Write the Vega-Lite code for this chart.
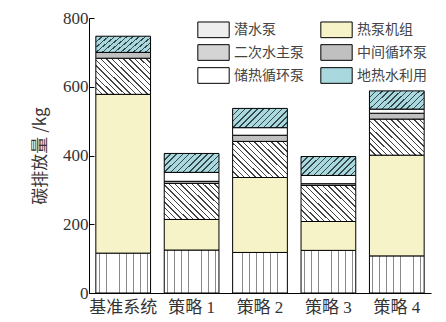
{
  "$schema": "https://vega.github.io/schema/vega-lite/v6.json",
  "width": 342,
  "height": 275,
  "autosize": {"type": "none"},
  "padding": {"left": 89, "top": 18, "right": 15, "bottom": 29},
  "background": "white",
  "config": {"view": {"stroke": null}},
  "data": {"values": [
    {"方案": "基准系统", "部件": "潜水泵", "idx": 1, "排放": 116},
    {"方案": "基准系统", "部件": "热泵机组", "idx": 2, "排放": 462},
    {"方案": "基准系统", "部件": "二次水主泵", "idx": 3, "排放": 105},
    {"方案": "基准系统", "部件": "中间循环泵", "idx": 4, "排放": 17},
    {"方案": "基准系统", "部件": "地热水利用", "idx": 6, "排放": 47},
    {"方案": "策略 1", "部件": "潜水泵", "idx": 1, "排放": 125},
    {"方案": "策略 1", "部件": "热泵机组", "idx": 2, "排放": 89},
    {"方案": "策略 1", "部件": "二次水主泵", "idx": 3, "排放": 105},
    {"方案": "策略 1", "部件": "中间循环泵", "idx": 4, "排放": 6},
    {"方案": "策略 1", "部件": "储热循环泵", "idx": 5, "排放": 26},
    {"方案": "策略 1", "部件": "地热水利用", "idx": 6, "排放": 55},
    {"方案": "策略 2", "部件": "潜水泵", "idx": 1, "排放": 118},
    {"方案": "策略 2", "部件": "热泵机组", "idx": 2, "排放": 218},
    {"方案": "策略 2", "部件": "二次水主泵", "idx": 3, "排放": 105},
    {"方案": "策略 2", "部件": "中间循环泵", "idx": 4, "排放": 18},
    {"方案": "策略 2", "部件": "储热循环泵", "idx": 5, "排放": 22},
    {"方案": "策略 2", "部件": "地热水利用", "idx": 6, "排放": 56},
    {"方案": "策略 3", "部件": "潜水泵", "idx": 1, "排放": 124},
    {"方案": "策略 3", "部件": "热泵机组", "idx": 2, "排放": 84},
    {"方案": "策略 3", "部件": "二次水主泵", "idx": 3, "排放": 105},
    {"方案": "策略 3", "部件": "中间循环泵", "idx": 4, "排放": 5},
    {"方案": "策略 3", "部件": "储热循环泵", "idx": 5, "排放": 24},
    {"方案": "策略 3", "部件": "地热水利用", "idx": 6, "排放": 55},
    {"方案": "策略 4", "部件": "潜水泵", "idx": 1, "排放": 108},
    {"方案": "策略 4", "部件": "热泵机组", "idx": 2, "排放": 293},
    {"方案": "策略 4", "部件": "二次水主泵", "idx": 3, "排放": 105},
    {"方案": "策略 4", "部件": "中间循环泵", "idx": 4, "排放": 17},
    {"方案": "策略 4", "部件": "储热循环泵", "idx": 5, "排放": 12},
    {"方案": "策略 4", "部件": "地热水利用", "idx": 6, "排放": 53}
  ]},
  "mark": {"type": "bar", "stroke": "black", "strokeWidth": 1},
  "encoding": {
    "x": {
      "field": "方案", "type": "nominal",
      "sort": ["基准系统", "策略 1", "策略 2", "策略 3", "策略 4"],
      "scale": {"paddingInner": 0.2, "paddingOuter": 0.1},
      "axis": {
        "title": null, "labelAngle": 0, "ticks": false, "labelPadding": 6,
        "domainColor": "black", "domainWidth": 1,
        "labelFont": "Liberation Serif, Noto Sans CJK SC", "labelFontSize": 17, "labelColor": "#333"
      }
    },
    "y": {
      "field": "排放", "type": "quantitative", "stack": "zero",
      "scale": {"domain": [0, 800], "nice": false},
      "axis": {
        "title": "碳排放量 /kg", "values": [0, 200, 400, 600, 800], "grid": false,
        "tickSize": -5, "tickColor": "black", "labelPadding": 6,
        "domainColor": "black", "domainWidth": 1,
        "labelFont": "Liberation Serif", "labelFontSize": 17, "labelColor": "#333",
        "titleFont": "Noto Sans CJK SC", "titleFontSize": 17, "titleFontWeight": "normal",
        "titleColor": "#3a3333", "titlePadding": 13
      }
    },
    "order": {"field": "idx", "type": "quantitative"},
    "fill": {
      "condition": [
        {"test": "datum['部件'] == '潜水泵'", "value": {"gradient": "linear", "x1": 0, "y1": 0, "x2": 1, "y2": 0, "stops": [
            {"offset": 0, "color": "#ffffff"}, {"offset": 0.0545, "color": "#ffffff"}, {"offset": 0.0545, "color": "#8a8a8a"}, {"offset": 0.0705, "color": "#8a8a8a"}, {"offset": 0.0705, "color": "#ffffff"},
            {"offset": 0.1795, "color": "#ffffff"}, {"offset": 0.1795, "color": "#8a8a8a"}, {"offset": 0.1955, "color": "#8a8a8a"}, {"offset": 0.1955, "color": "#ffffff"},
            {"offset": 0.3045, "color": "#ffffff"}, {"offset": 0.3045, "color": "#8a8a8a"}, {"offset": 0.3205, "color": "#8a8a8a"}, {"offset": 0.3205, "color": "#ffffff"},
            {"offset": 0.4295, "color": "#ffffff"}, {"offset": 0.4295, "color": "#8a8a8a"}, {"offset": 0.4455, "color": "#8a8a8a"}, {"offset": 0.4455, "color": "#ffffff"},
            {"offset": 0.5545, "color": "#ffffff"}, {"offset": 0.5545, "color": "#8a8a8a"}, {"offset": 0.5705, "color": "#8a8a8a"}, {"offset": 0.5705, "color": "#ffffff"},
            {"offset": 0.6795, "color": "#ffffff"}, {"offset": 0.6795, "color": "#8a8a8a"}, {"offset": 0.6955, "color": "#8a8a8a"}, {"offset": 0.6955, "color": "#ffffff"},
            {"offset": 0.8045, "color": "#ffffff"}, {"offset": 0.8045, "color": "#8a8a8a"}, {"offset": 0.8205, "color": "#8a8a8a"}, {"offset": 0.8205, "color": "#ffffff"},
            {"offset": 0.9295, "color": "#ffffff"}, {"offset": 0.9295, "color": "#8a8a8a"}, {"offset": 0.9455, "color": "#8a8a8a"}, {"offset": 0.9455, "color": "#ffffff"},
            {"offset": 1, "color": "#ffffff"}
          ]}},
        {"test": "datum['部件'] == '二次水主泵'", "value": {"gradient": "linear", "x1": 0, "y1": 1, "x2": 1.154, "y2": 0.231, "stops": [
            {"offset": 0, "color": "#444444"}, {"offset": 0.016, "color": "#444444"}, {"offset": 0.016, "color": "#ffffff"}, {"offset": 0.0625, "color": "#ffffff"},
            {"offset": 0.0625, "color": "#444444"}, {"offset": 0.0785, "color": "#444444"}, {"offset": 0.0785, "color": "#ffffff"}, {"offset": 0.125, "color": "#ffffff"},
            {"offset": 0.125, "color": "#444444"}, {"offset": 0.141, "color": "#444444"}, {"offset": 0.141, "color": "#ffffff"}, {"offset": 0.1875, "color": "#ffffff"},
            {"offset": 0.1875, "color": "#444444"}, {"offset": 0.2035, "color": "#444444"}, {"offset": 0.2035, "color": "#ffffff"}, {"offset": 0.25, "color": "#ffffff"},
            {"offset": 0.25, "color": "#444444"}, {"offset": 0.266, "color": "#444444"}, {"offset": 0.266, "color": "#ffffff"}, {"offset": 0.3125, "color": "#ffffff"},
            {"offset": 0.3125, "color": "#444444"}, {"offset": 0.3285, "color": "#444444"}, {"offset": 0.3285, "color": "#ffffff"}, {"offset": 0.375, "color": "#ffffff"},
            {"offset": 0.375, "color": "#444444"}, {"offset": 0.391, "color": "#444444"}, {"offset": 0.391, "color": "#ffffff"}, {"offset": 0.4375, "color": "#ffffff"},
            {"offset": 0.4375, "color": "#444444"}, {"offset": 0.4535, "color": "#444444"}, {"offset": 0.4535, "color": "#ffffff"}, {"offset": 0.5, "color": "#ffffff"},
            {"offset": 0.5, "color": "#444444"}, {"offset": 0.516, "color": "#444444"}, {"offset": 0.516, "color": "#ffffff"}, {"offset": 0.5625, "color": "#ffffff"},
            {"offset": 0.5625, "color": "#444444"}, {"offset": 0.5785, "color": "#444444"}, {"offset": 0.5785, "color": "#ffffff"}, {"offset": 0.625, "color": "#ffffff"},
            {"offset": 0.625, "color": "#444444"}, {"offset": 0.641, "color": "#444444"}, {"offset": 0.641, "color": "#ffffff"}, {"offset": 0.6875, "color": "#ffffff"},
            {"offset": 0.6875, "color": "#444444"}, {"offset": 0.7035, "color": "#444444"}, {"offset": 0.7035, "color": "#ffffff"}, {"offset": 0.75, "color": "#ffffff"},
            {"offset": 0.75, "color": "#444444"}, {"offset": 0.766, "color": "#444444"}, {"offset": 0.766, "color": "#ffffff"}, {"offset": 0.8125, "color": "#ffffff"},
            {"offset": 0.8125, "color": "#444444"}, {"offset": 0.8285, "color": "#444444"}, {"offset": 0.8285, "color": "#ffffff"}, {"offset": 0.875, "color": "#ffffff"},
            {"offset": 0.875, "color": "#444444"}, {"offset": 0.891, "color": "#444444"}, {"offset": 0.891, "color": "#ffffff"}, {"offset": 0.9375, "color": "#ffffff"},
            {"offset": 0.9375, "color": "#444444"}, {"offset": 0.9535, "color": "#444444"}, {"offset": 0.9535, "color": "#ffffff"}, {"offset": 1, "color": "#ffffff"}
          ]}},
        {"test": "datum['部件'] == '地热水利用'", "value": {"gradient": "linear", "x1": 0, "y1": 0, "x2": 1.203, "y2": 0.421, "stops": [
            {"offset": 0, "color": "#34474a"}, {"offset": 0.021, "color": "#34474a"}, {"offset": 0.021, "color": "#a9d9de"}, {"offset": 0.0833, "color": "#a9d9de"},
            {"offset": 0.0833, "color": "#34474a"}, {"offset": 0.1043, "color": "#34474a"}, {"offset": 0.1043, "color": "#a9d9de"}, {"offset": 0.1667, "color": "#a9d9de"},
            {"offset": 0.1667, "color": "#34474a"}, {"offset": 0.1877, "color": "#34474a"}, {"offset": 0.1877, "color": "#a9d9de"}, {"offset": 0.25, "color": "#a9d9de"},
            {"offset": 0.25, "color": "#34474a"}, {"offset": 0.271, "color": "#34474a"}, {"offset": 0.271, "color": "#a9d9de"}, {"offset": 0.3333, "color": "#a9d9de"},
            {"offset": 0.3333, "color": "#34474a"}, {"offset": 0.3543, "color": "#34474a"}, {"offset": 0.3543, "color": "#a9d9de"}, {"offset": 0.4167, "color": "#a9d9de"},
            {"offset": 0.4167, "color": "#34474a"}, {"offset": 0.4377, "color": "#34474a"}, {"offset": 0.4377, "color": "#a9d9de"}, {"offset": 0.5, "color": "#a9d9de"},
            {"offset": 0.5, "color": "#34474a"}, {"offset": 0.521, "color": "#34474a"}, {"offset": 0.521, "color": "#a9d9de"}, {"offset": 0.5833, "color": "#a9d9de"},
            {"offset": 0.5833, "color": "#34474a"}, {"offset": 0.6043, "color": "#34474a"}, {"offset": 0.6043, "color": "#a9d9de"}, {"offset": 0.6667, "color": "#a9d9de"},
            {"offset": 0.6667, "color": "#34474a"}, {"offset": 0.6877, "color": "#34474a"}, {"offset": 0.6877, "color": "#a9d9de"}, {"offset": 0.75, "color": "#a9d9de"},
            {"offset": 0.75, "color": "#34474a"}, {"offset": 0.771, "color": "#34474a"}, {"offset": 0.771, "color": "#a9d9de"}, {"offset": 0.8333, "color": "#a9d9de"},
            {"offset": 0.8333, "color": "#34474a"}, {"offset": 0.8543, "color": "#34474a"}, {"offset": 0.8543, "color": "#a9d9de"}, {"offset": 0.9167, "color": "#a9d9de"},
            {"offset": 0.9167, "color": "#34474a"}, {"offset": 0.9377, "color": "#34474a"}, {"offset": 0.9377, "color": "#a9d9de"}, {"offset": 1, "color": "#a9d9de"}
          ]}}
      ],
      "field": "部件", "type": "nominal",
      "scale": {
        "domain": ["潜水泵", "热泵机组", "二次水主泵", "中间循环泵", "储热循环泵", "地热水利用"],
        "range": ["#eeeeee", "#f6f3c9", "#d4d4d4", "#c0c0c0", "#ffffff", "#a9d9de"]
      },
      "legend": {
        "title": null, "orient": "none", "legendX": 116, "legendY": 3,
        "columns": 2, "direction": "horizontal",
        "symbolType": "M-2,-1H2V1H-2Z", "symbolSize": 246,
        "symbolStrokeColor": "black", "symbolStrokeWidth": 1, "symbolOpacity": 1,
        "labelOffset": 12, "columnPadding": 14, "rowPadding": 2, "padding": 0,
        "labelFont": "Noto Sans CJK SC", "labelFontSize": 14, "labelColor": "#444", "labelLimit": 200
      }
    }
  }
}
